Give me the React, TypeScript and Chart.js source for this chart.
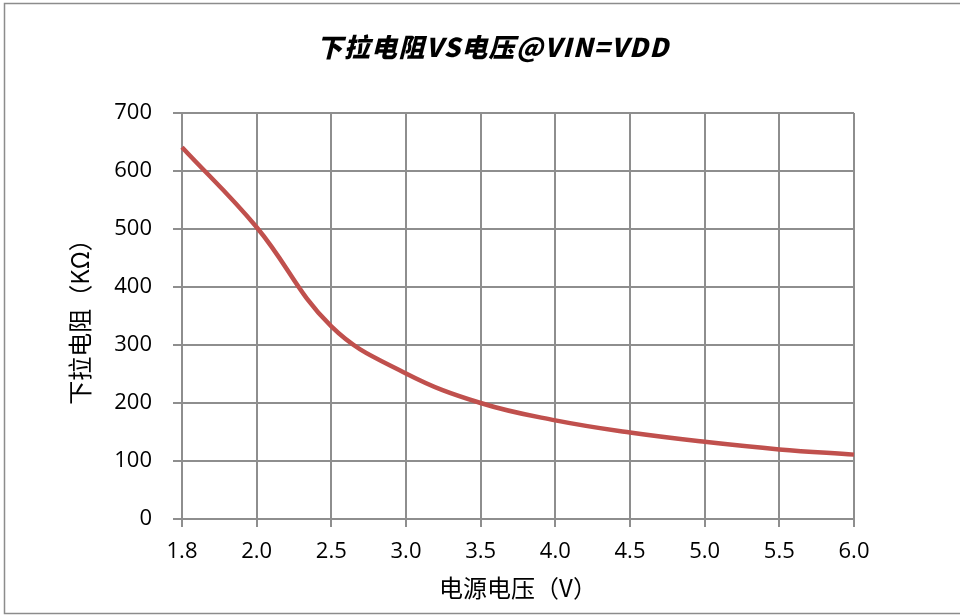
import React, { useEffect, useRef } from "react";
import { Chart, registerables } from "chart.js";

Chart.register(...registerables);

const categories = ["1.8", "2.0", "2.5", "3.0", "3.5", "4.0", "4.5", "5.0", "5.5", "6.0"];
const resistance = [641, 503, 332, 251, 200, 170, 149, 133, 120, 111];
const yTicks = [0, 100, 200, 300, 400, 500, 600, 700];

const titleText = "下拉电阻VS电压@VIN=VDD";
const xTitle = "电源电压（V）";
const yTitle = "下拉电阻（KΩ）";

const NUM_FONT = "'Open Sans', 'Noto Sans CJK SC', sans-serif";
const CJK_FONT = "'Noto Sans CJK SC', 'Open Sans', sans-serif";
const GRID = "#8e8e8e";

const decor = {
  id: "decor",
  beforeDraw(chart: any) {
    const ctx = chart.ctx;
    ctx.save();
    ctx.fillStyle = "#ffffff";
    ctx.fillRect(0, 0, chart.width, chart.height);
    ctx.strokeStyle = "#8c8c8c";
    ctx.lineWidth = 1.5;
    ctx.strokeRect(4.5, 3.5, chart.width + 20, chart.height - 5);
    ctx.restore();
  },
  afterDraw(chart: any) {
    const ctx = chart.ctx;
    ctx.save();
    ctx.fillStyle = "#000";
    ctx.font = "italic 900 26px " + CJK_FONT;
    (ctx as any).letterSpacing = "1.3px";
    ctx.textAlign = "center";
    ctx.textBaseline = "middle";
    ctx.fillText(titleText, 493, 47);
    ctx.restore();
  },
};

export default function App() {
  const ref = useRef<HTMLCanvasElement | null>(null);
  useEffect(() => {
    if (!ref.current) return;
    const chart = new Chart(ref.current, {
      type: "line",
      data: {
        labels: categories,
        datasets: [
          {
            data: resistance,
            borderColor: "#C0504D",
            backgroundColor: "#C0504D",
            borderWidth: 4.5,
            pointRadius: 0,
            tension: 0.4,
            cubicInterpolationMode: "default",
            fill: false,
          },
        ],
      },
      options: {
        animation: false,
        responsive: false,
        maintainAspectRatio: false,
        layout: { padding: { left: 60, top: 113, right: 106, bottom: 10 } },
        plugins: {
          legend: { display: false },
          tooltip: { enabled: false },
          title: { display: false },
        },
        scales: {
          x: {
            type: "category",
            offset: false,
            grid: { color: GRID, lineWidth: 2, tickLength: 8, offset: false },
            border: { color: GRID, width: 2 },
            ticks: {
              color: "#000",
              font: { family: NUM_FONT, size: 22 },
              padding: 12,
              maxRotation: 0,
              autoSkip: false,
            },
            title: {
              display: true,
              text: xTitle,
              color: "#000",
              font: { family: CJK_FONT, size: 24 },
              padding: { top: 4, bottom: 3 },
            },
            afterFit(scale: any) {
              scale.height = 86;
            },
          },
          y: {
            min: 0,
            max: 700,
            afterBuildTicks(scale: any) {
              scale.ticks = yTicks.map((v) => ({ value: v }));
            },
            grid: { color: GRID, lineWidth: 2, tickLength: 9 },
            border: { color: GRID, width: 2 },
            ticks: {
              color: "#000",
              font: { family: NUM_FONT, size: 22 },
              padding: 21,
            },
            title: {
              display: true,
              text: yTitle,
              color: "#000",
              font: { family: CJK_FONT, size: 24 },
              padding: { top: 5, bottom: 4 },
            },
            afterFit(scale: any) {
              scale.width = 122;
            },
          },
        },
      },
      plugins: [decor],
    });
    return () => chart.destroy();
  }, []);
  return (
    <div style={{ position: "fixed", left: 0, top: 0, width: 960, height: 615, background: "#fff" }}>
      <canvas ref={ref} width={960} height={615} style={{ width: 960, height: 615, display: "block" }} />
    </div>
  );
}
